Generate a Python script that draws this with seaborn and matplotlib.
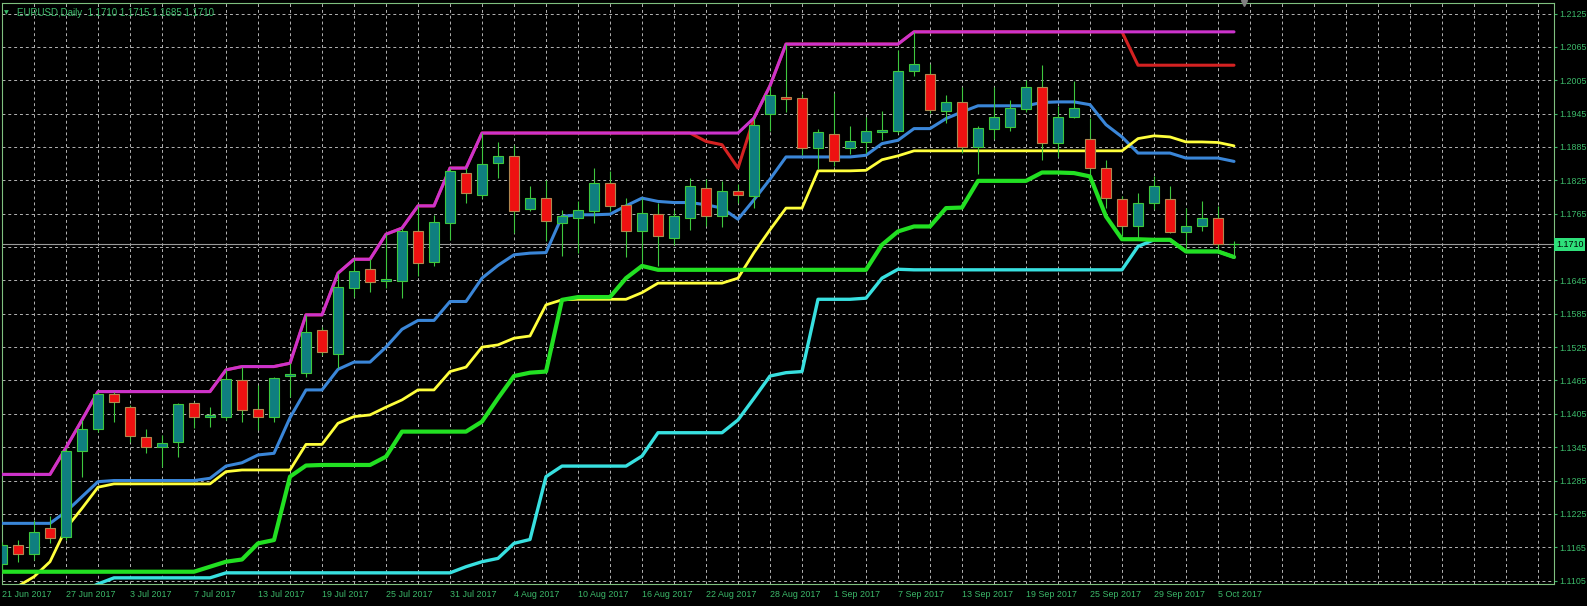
import matplotlib
matplotlib.use("Agg")
import matplotlib.pyplot as plt
import seaborn as sns

# EURUSD daily bars, 21 Jun 2017 .. 6 Oct 2017
bar_dates = [
    "21 Jun 2017", "22 Jun 2017", "23 Jun 2017", "26 Jun 2017", "27 Jun 2017", "28 Jun 2017",
    "29 Jun 2017", "30 Jun 2017", "3 Jul 2017", "4 Jul 2017", "5 Jul 2017", "6 Jul 2017",
    "7 Jul 2017", "10 Jul 2017", "11 Jul 2017", "12 Jul 2017", "13 Jul 2017", "14 Jul 2017",
    "17 Jul 2017", "18 Jul 2017", "19 Jul 2017", "20 Jul 2017", "21 Jul 2017", "24 Jul 2017",
    "25 Jul 2017", "26 Jul 2017", "27 Jul 2017", "28 Jul 2017", "31 Jul 2017", "1 Aug 2017",
    "2 Aug 2017", "3 Aug 2017", "4 Aug 2017", "7 Aug 2017", "8 Aug 2017", "9 Aug 2017",
    "10 Aug 2017", "11 Aug 2017", "14 Aug 2017", "15 Aug 2017", "16 Aug 2017", "17 Aug 2017",
    "18 Aug 2017", "21 Aug 2017", "22 Aug 2017", "23 Aug 2017", "24 Aug 2017", "25 Aug 2017",
    "28 Aug 2017", "29 Aug 2017", "30 Aug 2017", "31 Aug 2017", "1 Sep 2017", "4 Sep 2017",
    "5 Sep 2017", "6 Sep 2017", "7 Sep 2017", "8 Sep 2017", "11 Sep 2017", "12 Sep 2017",
    "13 Sep 2017", "14 Sep 2017", "15 Sep 2017", "18 Sep 2017", "19 Sep 2017", "20 Sep 2017",
    "21 Sep 2017", "22 Sep 2017", "25 Sep 2017", "26 Sep 2017", "27 Sep 2017", "28 Sep 2017",
    "29 Sep 2017", "2 Oct 2017", "3 Oct 2017", "4 Oct 2017", "5 Oct 2017", "6 Oct 2017",
]

opens = [
    1.1135, 1.1169, 1.1152, 1.1199, 1.1183, 1.1339, 1.1377, 1.1440, 1.1418, 1.1364,
    1.1346, 1.1354, 1.1424, 1.1400, 1.1399, 1.1465, 1.1413, 1.1399, 1.1473, 1.1479,
    1.1556, 1.1513, 1.1631, 1.1665, 1.1643, 1.1644, 1.1734, 1.1678, 1.1748, 1.1839,
    1.1799, 1.1856, 1.1869, 1.1773, 1.1794, 1.1749, 1.1757, 1.1770, 1.1821, 1.1781,
    1.1734, 1.1764, 1.1721, 1.1757, 1.1812, 1.1761, 1.1806, 1.1797, 1.1944, 1.1975,
    1.1973, 1.1883, 1.1908, 1.1883, 1.1894, 1.1911, 1.1914, 1.2022, 1.2017, 1.1950,
    1.1965, 1.1884, 1.1917, 1.1920, 1.1953, 1.1993, 1.1892, 1.1939, 1.1899, 1.1847,
    1.1791, 1.1743, 1.1784, 1.1791, 1.1732, 1.1742, 1.1758, 1.1710,
]
highs = [
    1.1175, 1.1178, 1.1214, 1.1221, 1.1344, 1.1394, 1.1445, 1.1445, 1.1421, 1.1377,
    1.1367, 1.1425, 1.1427, 1.1418, 1.1484, 1.1490, 1.1457, 1.1472, 1.1496, 1.1583,
    1.1562, 1.1658, 1.1683, 1.1683, 1.1728, 1.1739, 1.1779, 1.1763, 1.1847, 1.1847,
    1.1910, 1.1894, 1.1889, 1.1815, 1.1826, 1.1772, 1.1787, 1.1847, 1.1841, 1.1793,
    1.1793, 1.1784, 1.1772, 1.1829, 1.1827, 1.1824, 1.1818, 1.1937, 1.1995, 1.2070,
    1.1980, 1.1918, 1.1982, 1.1923, 1.1939, 1.1950, 1.2059, 1.2091, 1.2035, 1.1978,
    1.1993, 1.1923, 1.1992, 1.1969, 1.2005, 1.2032, 1.1959, 1.2004, 1.1937, 1.1862,
    1.1796, 1.1803, 1.1832, 1.1815, 1.1776, 1.1787, 1.1778, 1.1715,
]
lows = [
    1.1120, 1.1139, 1.1142, 1.1173, 1.1178, 1.1292, 1.1373, 1.1391, 1.1355, 1.1335,
    1.1309, 1.1328, 1.1379, 1.1382, 1.1394, 1.1391, 1.1376, 1.1391, 1.1436, 1.1472,
    1.1511, 1.1487, 1.1616, 1.1625, 1.1631, 1.1613, 1.1652, 1.1670, 1.1718, 1.1785,
    1.1793, 1.1830, 1.1730, 1.1769, 1.1715, 1.1688, 1.1695, 1.1749, 1.1769, 1.1687,
    1.1676, 1.1670, 1.1709, 1.1736, 1.1742, 1.1741, 1.1784, 1.1775, 1.1914, 1.1948,
    1.1870, 1.1845, 1.1850, 1.1872, 1.1874, 1.1897, 1.1910, 1.2013, 1.1946, 1.1928,
    1.1875, 1.1836, 1.1900, 1.1914, 1.1948, 1.1862, 1.1867, 1.1937, 1.1836, 1.1775,
    1.1724, 1.1721, 1.1773, 1.1730, 1.1700, 1.1734, 1.1700, 1.1685,
]
closes = [
    1.1169, 1.1152, 1.1193, 1.1181, 1.1339, 1.1377, 1.1441, 1.1426, 1.1365, 1.1345,
    1.1352, 1.1422, 1.1400, 1.1402, 1.1467, 1.1411, 1.1399, 1.1469, 1.1477, 1.1553,
    1.1516, 1.1633, 1.1662, 1.1642, 1.1647, 1.1734, 1.1676, 1.1750, 1.1842, 1.1802,
    1.1854, 1.1868, 1.1770, 1.1794, 1.1752, 1.1761, 1.1772, 1.1820, 1.1779, 1.1734,
    1.1766, 1.1724, 1.1760, 1.1814, 1.1761, 1.1805, 1.1799, 1.1925, 1.1978, 1.1971,
    1.1883, 1.1911, 1.1860, 1.1896, 1.1914, 1.1916, 1.2022, 1.2035, 1.1951, 1.1965,
    1.1884, 1.1919, 1.1939, 1.1955, 1.1992, 1.1892, 1.1939, 1.1955, 1.1847, 1.1793,
    1.1743, 1.1785, 1.1815, 1.1732, 1.1742, 1.1758, 1.1710, 1.1710,
]

# indicator lines, one value per bar
magenta_line = [
    1.1296, 1.1296, 1.1296, 1.1296, 1.1344, 1.1394, 1.1445, 1.1445, 1.1445, 1.1445,
    1.1445, 1.1445, 1.1445, 1.1445, 1.1484, 1.1490, 1.1490, 1.1490, 1.1496, 1.1583,
    1.1583, 1.1658, 1.1683, 1.1683, 1.1728, 1.1739, 1.1779, 1.1779, 1.1847, 1.1847,
    1.1910, 1.1910, 1.1910, 1.1910, 1.1910, 1.1910, 1.1910, 1.1910, 1.1910, 1.1910,
    1.1910, 1.1910, 1.1910, 1.1910, 1.1910, 1.1910, 1.1910, 1.1937, 1.1995, 1.2070,
    1.2070, 1.2070, 1.2070, 1.2070, 1.2070, 1.2070, 1.2070, 1.2092, 1.2092, 1.2092,
    1.2092, 1.2092, 1.2092, 1.2092, 1.2092, 1.2092, 1.2092, 1.2092, 1.2092, 1.2092,
    1.2092, 1.2092, 1.2092, 1.2092, 1.2092, 1.2092, 1.2092, 1.2092,
]
red_line = [
    1.1296, 1.1296, 1.1296, 1.1296, 1.1344, 1.1394, 1.1445, 1.1445, 1.1445, 1.1445,
    1.1445, 1.1445, 1.1445, 1.1445, 1.1484, 1.1490, 1.1490, 1.1490, 1.1496, 1.1583,
    1.1583, 1.1658, 1.1683, 1.1683, 1.1728, 1.1739, 1.1779, 1.1779, 1.1847, 1.1847,
    1.1910, 1.1910, 1.1910, 1.1910, 1.1910, 1.1910, 1.1910, 1.1910, 1.1910, 1.1910,
    1.1910, 1.1910, 1.1910, 1.1910, 1.1895, 1.1889, 1.1847, 1.1937, 1.1995, 1.2070,
    1.2070, 1.2070, 1.2070, 1.2070, 1.2070, 1.2070, 1.2070, 1.2092, 1.2092, 1.2092,
    1.2092, 1.2092, 1.2092, 1.2092, 1.2092, 1.2092, 1.2092, 1.2092, 1.2092, 1.2092,
    1.2092, 1.2032, 1.2032, 1.2032, 1.2032, 1.2032, 1.2032, 1.2032,
]
blue_line = [
    1.1208, 1.1208, 1.1208, 1.1208, 1.1229, 1.1256, 1.1283, 1.1285, 1.1285, 1.1285,
    1.1285, 1.1285, 1.1285, 1.1289, 1.1311, 1.1317, 1.1331, 1.1334, 1.1398, 1.1448,
    1.1448, 1.1485, 1.1498, 1.1498, 1.1525, 1.1557, 1.1573, 1.1573, 1.1607, 1.1607,
    1.1649, 1.1672, 1.1691, 1.1694, 1.1695, 1.1760, 1.1763, 1.1763, 1.1764, 1.1779,
    1.1793, 1.1787, 1.1785, 1.1785, 1.1781, 1.1775, 1.1755, 1.1790, 1.1827, 1.1867,
    1.1867, 1.1867, 1.1867, 1.1867, 1.1870, 1.1891, 1.1897, 1.1918, 1.1918, 1.1936,
    1.1948, 1.1959, 1.1959, 1.1959, 1.1959, 1.1965, 1.1966, 1.1966, 1.1961, 1.1925,
    1.1903, 1.1874, 1.1874, 1.1874, 1.1865, 1.1865, 1.1865, 1.1859,
]
yellow_line = [
    1.1080, 1.1095, 1.1112, 1.1139, 1.1199, 1.1235, 1.1273, 1.1279, 1.1279, 1.1279,
    1.1279, 1.1279, 1.1279, 1.1279, 1.1301, 1.1304, 1.1304, 1.1304, 1.1304, 1.1350,
    1.1350, 1.1388, 1.1400, 1.1403, 1.1417, 1.1430, 1.1448, 1.1448, 1.1481, 1.1489,
    1.1525, 1.1529, 1.1541, 1.1545, 1.1601, 1.1610, 1.1611, 1.1611, 1.1611, 1.1611,
    1.1623, 1.1640, 1.1640, 1.1640, 1.1640, 1.1640, 1.1649, 1.1695, 1.1736, 1.1775,
    1.1775, 1.1842, 1.1842, 1.1842, 1.1843, 1.1862, 1.1869, 1.1878, 1.1878, 1.1878,
    1.1878, 1.1878, 1.1878, 1.1878, 1.1878, 1.1878, 1.1878, 1.1878, 1.1878, 1.1878,
    1.1878, 1.1900, 1.1905, 1.1903, 1.1894, 1.1894, 1.1893, 1.1887,
]
green_line = [
    1.1121, 1.1121, 1.1121, 1.1121, 1.1121, 1.1121, 1.1121, 1.1121, 1.1121, 1.1121,
    1.1121, 1.1121, 1.1121, 1.1130, 1.1139, 1.1143, 1.1172, 1.1178, 1.1292, 1.1312,
    1.1313, 1.1313, 1.1313, 1.1313, 1.1328, 1.1373, 1.1373, 1.1373, 1.1373, 1.1373,
    1.1391, 1.1433, 1.1473, 1.1479, 1.1481, 1.1610, 1.1615, 1.1615, 1.1615, 1.1649,
    1.1671, 1.1664, 1.1664, 1.1664, 1.1664, 1.1664, 1.1664, 1.1664, 1.1664, 1.1664,
    1.1664, 1.1664, 1.1664, 1.1664, 1.1664, 1.1709, 1.1733, 1.1742, 1.1742, 1.1775,
    1.1776, 1.1824, 1.1824, 1.1824, 1.1824, 1.1839, 1.1839, 1.1838, 1.1832, 1.1760,
    1.1719, 1.1719, 1.1718, 1.1718, 1.1697, 1.1697, 1.1697, 1.1687,
]
cyan_line = [
    1.1085, 1.1085, 1.1085, 1.1085, 1.1085, 1.1085, 1.1099, 1.1110, 1.1110, 1.1110,
    1.1110, 1.1110, 1.1110, 1.1110, 1.1119, 1.1119, 1.1119, 1.1119, 1.1119, 1.1119,
    1.1119, 1.1119, 1.1119, 1.1119, 1.1119, 1.1119, 1.1119, 1.1119, 1.1119, 1.1130,
    1.1139, 1.1145, 1.1172, 1.1179, 1.1292, 1.1311, 1.1311, 1.1311, 1.1311, 1.1311,
    1.1329, 1.1371, 1.1371, 1.1371, 1.1371, 1.1371, 1.1394, 1.1433, 1.1473, 1.1479,
    1.1481, 1.1611, 1.1611, 1.1611, 1.1613, 1.1649, 1.1665, 1.1664, 1.1664, 1.1664,
    1.1664, 1.1664, 1.1664, 1.1664, 1.1664, 1.1664, 1.1664, 1.1664, 1.1664, 1.1664,
    1.1664, 1.1706, 1.1718, 1.1718, 1.1697, 1.1697, 1.1697, 1.1687,
]

price_levels = [
    1.1105, 1.1165, 1.1225, 1.1285, 1.1345, 1.1405, 1.1465, 1.1525, 1.1585,
    1.1645, 1.1705, 1.1765, 1.1825, 1.1885, 1.1945, 1.2005, 1.2065, 1.2125,
]
header = "EURUSD,Daily  1.1710 1.1715 1.1685 1.1710"
last_price = 1.1710

sns.set_style("dark", {"axes.facecolor": "black", "figure.facecolor": "black"})
plt.rcParams['font.family'] = ['Liberation Sans', 'DejaVu Sans']

W, H = 1587, 606
fig = plt.figure(figsize=(W / 100, H / 100), dpi=100)
fig.patch.set_facecolor("black")
ax = fig.add_axes([2 / W, 22 / H, 1552 / W, 581 / H])
ax.set_facecolor("black")

idx = list(range(len(closes)))
ax.set_xlim(0, 97)
ax.set_ylim(1.109892, 1.214389)

# dashed grid
grid_kw = dict(color="#b4b4b4", linewidth=0.7, linestyle=(0, (3, 3)), zorder=0)
for lv in price_levels:
    ax.axhline(lv, **grid_kw)
for gx in range(0, 98, 2):
    ax.axvline(gx, **grid_kw)

# bid line
ax.axhline(last_price, color="#9a9a9a", linewidth=0.8, zorder=1)

# indicator lines
sns.lineplot(x=idx, y=red_line, color="#d52222", linewidth=2.2, ax=ax, zorder=3)
sns.lineplot(x=idx, y=magenta_line, color="#cc33cc", linewidth=2.2, ax=ax, zorder=3)
sns.lineplot(x=idx, y=blue_line, color="#3a86d8", linewidth=2.2, ax=ax, zorder=3)
sns.lineplot(x=idx, y=yellow_line, color="#ffff3c", linewidth=2.0, ax=ax, zorder=3)
sns.lineplot(x=idx, y=cyan_line, color="#38e0e0", linewidth=2.4, ax=ax, zorder=3)
sns.lineplot(x=idx, y=green_line, color="#22e022", linewidth=3.0, ax=ax, zorder=3)

# candles
bull = [c >= o for o, c in zip(opens, closes)]
ax.vlines(idx, lows, highs, color="#3ec83e", linewidth=0.8, zorder=4)
bottoms = [min(o, c) for o, c in zip(opens, closes)]
heights = [max(abs(c - o), 0.00002) for o, c in zip(opens, closes)]
ax.bar(idx, heights, bottom=bottoms, width=0.6,
       color=["#0f7f7f" if b else "#ee1111" for b in bull],
       edgecolor=["#3ec83e" if b else "#b08850" for b in bull],
       linewidth=0.8, zorder=5)

# axes styling
for side, sp in ax.spines.items():
    sp.set_color("#7fbf7f")
    sp.set_linewidth(0.8)

ax.yaxis.tick_right()
ax.set_yticks(price_levels)
# the 1.1705 label sits under the current-price box
ax.set_yticklabels(["" if abs(v - 1.1705) < 1e-6 else f"{v:.4f}" for v in price_levels])
ax.set_xticks(idx[::4])
ax.set_xticklabels(bar_dates[::4], ha="left")
ax.tick_params(axis="both", colors="#3cba6a", labelsize=6.4, length=2.5, width=0.8,
               direction="out")
ax.tick_params(axis="y", pad=1.5)
ax.tick_params(axis="x", pad=2)
ax.set_xlabel("")
ax.set_ylabel("")
ax.grid(False)

# current price box on the price scale
ax.text(1.0013, last_price, f"{last_price:.4f}", transform=ax.get_yaxis_transform(),
        ha="left", va="center", fontsize=6.4, color="black", zorder=20, clip_on=False,
        bbox=dict(boxstyle="square,pad=0.2", facecolor="#2ee07a", edgecolor="none"))

# chart shift marker
ax.plot([77.6], [1.214389], marker="v", markersize=5, color="#808080",
        clip_on=False, zorder=20)

# header
fig.text(4 / W, 1 - 13 / H, "\u25bc", fontsize=4.5, color="#3cba6a", va="center",
         family=["DejaVu Sans"])
fig.text(17 / W, 1 - 13 / H, header, fontsize=7, color="#3cba6a", va="center")

fig.savefig("out.png", dpi=100, facecolor="black")
